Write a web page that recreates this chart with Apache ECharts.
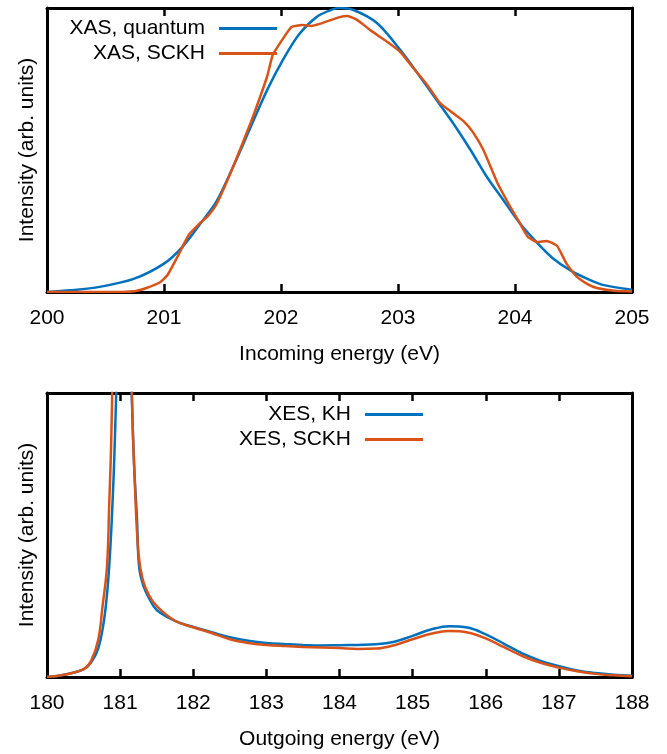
<!DOCTYPE html>
<html>
<head>
<meta charset="utf-8">
<script src="https://cdn.jsdelivr.net/npm/echarts@6/dist/echarts.min.js"></script>
<style>html,body{margin:0;padding:0;background:#fff}#c{width:667px;height:754px}</style>
</head>
<body>
<div id="c"></div>
<script>
// ---- Top panel: XAS ----
var xasQuantumE = [200.0, 200.2, 200.45, 200.74, 201.0, 201.16, 201.31, 201.45, 201.59, 201.74, 201.88, 202.02, 202.16, 202.31, 202.44, 202.5, 202.62, 202.82, 203.02, 203.19, 203.33, 203.47, 203.62, 203.76, 203.90, 204.04, 204.19, 204.32, 204.47, 204.62, 204.75, 205.0];
var xasQuantumI = [0.0, 0.006, 0.018, 0.046, 0.10, 0.16, 0.24, 0.32, 0.44, 0.58, 0.71, 0.82, 0.91, 0.97, 0.995, 1.0, 0.993, 0.947, 0.852, 0.757, 0.676, 0.595, 0.5, 0.405, 0.324, 0.243, 0.173, 0.12, 0.077, 0.046, 0.025, 0.008];
var xasSckhE = [200.0, 200.5, 200.75, 200.85, 200.97, 201.03, 201.11, 201.21, 201.31, 201.38, 201.45, 201.59, 201.74, 201.88, 201.93, 202.02, 202.09, 202.18, 202.26, 202.33, 202.50, 202.57, 202.65, 202.76, 202.91, 203.02, 203.13, 203.25, 203.36, 203.47, 203.56, 203.64, 203.73, 203.85, 203.96, 204.04, 204.11, 204.19, 204.27, 204.36, 204.44, 204.53, 204.62, 204.70, 204.85, 205.0];
var xasSckhI = [0.0, 0.0, 0.003, 0.014, 0.035, 0.06, 0.12, 0.20, 0.243, 0.27, 0.31, 0.44, 0.595, 0.757, 0.835, 0.894, 0.933, 0.94, 0.937, 0.944, 0.968, 0.972, 0.958, 0.923, 0.88, 0.845, 0.789, 0.729, 0.665, 0.63, 0.602, 0.563, 0.50, 0.384, 0.30, 0.243, 0.194, 0.176, 0.18, 0.162, 0.10, 0.053, 0.028, 0.014, 0.004, 0.002];
var xasTicks = [200, 201, 202, 203, 204, 205];

// ---- Bottom panel: XES ----
var xesKhE = [180.0, 180.25, 180.5, 180.6, 180.7, 180.78, 180.84, 180.89, 180.93, 180.97, 181.05, 181.13, 181.17, 181.2, 181.23, 181.26, 181.32, 181.4, 181.5, 181.75, 182.0, 182.25, 182.5, 182.75, 183.0, 183.25, 183.5, 183.75, 184.0, 184.25, 184.5, 184.75, 185.0, 185.25, 185.5, 185.75, 186.0, 186.25, 186.5, 186.75, 187.0, 187.25, 187.5, 187.75, 188.0];
var xesKhI = [0.0, 0.009, 0.027, 0.05, 0.1, 0.2, 0.35, 0.577, 0.85, 1.3, 4.0, 1.3, 0.9, 0.7, 0.56, 0.387, 0.32, 0.275, 0.236, 0.198, 0.176, 0.158, 0.14, 0.128, 0.12, 0.116, 0.113, 0.111, 0.112, 0.113, 0.115, 0.124, 0.145, 0.167, 0.179, 0.174, 0.15, 0.117, 0.083, 0.057, 0.038, 0.023, 0.014, 0.008, 0.004];
var xesSckhE = [180.0, 180.25, 180.5, 180.6, 180.7, 180.76, 180.82, 180.85, 180.88, 180.91, 181.0, 181.14, 181.17, 181.2, 181.25, 181.31, 181.4, 181.5, 181.75, 182.0, 182.25, 182.5, 182.75, 183.0, 183.25, 183.5, 183.75, 184.0, 184.25, 184.5, 184.75, 185.0, 185.25, 185.5, 185.75, 186.0, 186.25, 186.5, 186.75, 187.0, 187.25, 187.5, 187.75, 188.0];
var xesSckhI = [0.0, 0.009, 0.028, 0.055, 0.13, 0.25, 0.387, 0.6, 0.85, 1.3, 4.0, 1.3, 0.9, 0.69, 0.437, 0.342, 0.285, 0.25, 0.198, 0.175, 0.155, 0.133, 0.12, 0.113, 0.109, 0.106, 0.104, 0.102, 0.099, 0.1, 0.112, 0.133, 0.152, 0.162, 0.157, 0.136, 0.105, 0.074, 0.05, 0.033, 0.02, 0.011, 0.006, 0.003];
var xesTicks = [180, 181, 182, 183, 184, 185, 186, 187, 188];

var BLUE = '#0072BD', ORANGE = '#D95319';
var FONT = 'Liberation Sans, Arial, sans-serif';
var FS = 21;

function pairs(xs, ys) { return xs.map(function (x, i) { return [x, ys[i]]; }); }

function xAxisPair(gridIndex, ticks, name, nameGap) {
  var min = ticks[0], max = ticks[ticks.length - 1];
  var base = {
    gridIndex: gridIndex, type: 'value', min: min, max: max, interval: ticks[1] - ticks[0],
    splitLine: { show: false },
    axisLine: { show: true, onZero: false, lineStyle: { color: '#000', width: 3 } },
    axisTick: { show: true, inside: true, length: 8, lineStyle: { color: '#000', width: 2.5 } }
  };
  var bottom = Object.assign({}, base, {
    position: 'bottom',
    name: name, nameLocation: 'middle', nameGap: nameGap,
    nameTextStyle: { fontFamily: FONT, fontSize: FS, color: '#000' },
    axisLabel: { show: true, margin: 16, fontFamily: FONT, fontSize: FS, color: '#000' }
  });
  var top = Object.assign({}, base, { position: 'top', axisLabel: { show: false } });
  return [bottom, top];
}
function yAxisPair(gridIndex) {
  var base = {
    gridIndex: gridIndex, type: 'value', min: 0, max: 1,
    splitLine: { show: false }, axisTick: { show: false }, axisLabel: { show: false },
    axisLine: { show: true, onZero: false, lineStyle: { color: '#000', width: 3 } }
  };
  var left = Object.assign({}, base, {
    position: 'left', name: 'Intensity (arb. units)', nameLocation: 'middle', nameGap: 9,
    nameTextStyle: { fontFamily: FONT, fontSize: FS, color: '#000' }
  });
  var right = Object.assign({}, base, { position: 'right' });
  return [left, right];
}

var xa = xAxisPair(0, xasTicks, 'Incoming energy (eV)', 52).concat(xAxisPair(1, xesTicks, 'Outgoing energy (eV)', 52));
var ya = yAxisPair(0).concat(yAxisPair(1));

var legendCommon = {
  orient: 'vertical', align: 'right', itemWidth: 58, itemHeight: 3, itemGap: 4, padding: 0,
  icon: 'rect', backgroundColor: 'transparent',
  textStyle: { fontFamily: FONT, fontSize: FS, color: '#000', padding: [0, 9, 0, 0] }
};

var option = {
  animation: false,
  backgroundColor: '#fff',
  grid: [
    { left: 47, right: 35, top: 8, height: 284 },
    { left: 47, right: 35, top: 393, height: 284 }
  ],
  xAxis: xa,
  yAxis: ya,
  legend: [
    Object.assign({}, legendCommon, { data: ['XAS, quantum', 'XAS, SCKH'], right: 390, top: 18 }),
    Object.assign({}, legendCommon, { data: ['XES, KH', 'XES, SCKH'], right: 244, top: 404 })
  ],
  series: [
    { name: 'XAS, quantum', type: 'line', xAxisIndex: 0, yAxisIndex: 0, data: pairs(xasQuantumE, xasQuantumI),
      showSymbol: false, smooth: 0.3, clip: true, lineStyle: { color: BLUE, width: 2.5 }, itemStyle: { color: BLUE } },
    { name: 'XAS, SCKH', type: 'line', xAxisIndex: 0, yAxisIndex: 0, data: pairs(xasSckhE, xasSckhI),
      showSymbol: false, smooth: 0.15, clip: true, lineStyle: { color: ORANGE, width: 2.5 }, itemStyle: { color: ORANGE } },
    { name: 'XES, KH', type: 'line', xAxisIndex: 2, yAxisIndex: 2, data: pairs(xesKhE, xesKhI),
      showSymbol: false, smooth: 0.4, clip: true, lineStyle: { color: BLUE, width: 2.5 }, itemStyle: { color: BLUE } },
    { name: 'XES, SCKH', type: 'line', xAxisIndex: 2, yAxisIndex: 2, data: pairs(xesSckhE, xesSckhI),
      showSymbol: false, smooth: 0.4, clip: true, lineStyle: { color: ORANGE, width: 2.5 }, itemStyle: { color: ORANGE } }
  ]
};

var chart = echarts.init(document.getElementById('c'), null, { renderer: 'canvas' });
chart.setOption(option);
</script>
</body>
</html>
